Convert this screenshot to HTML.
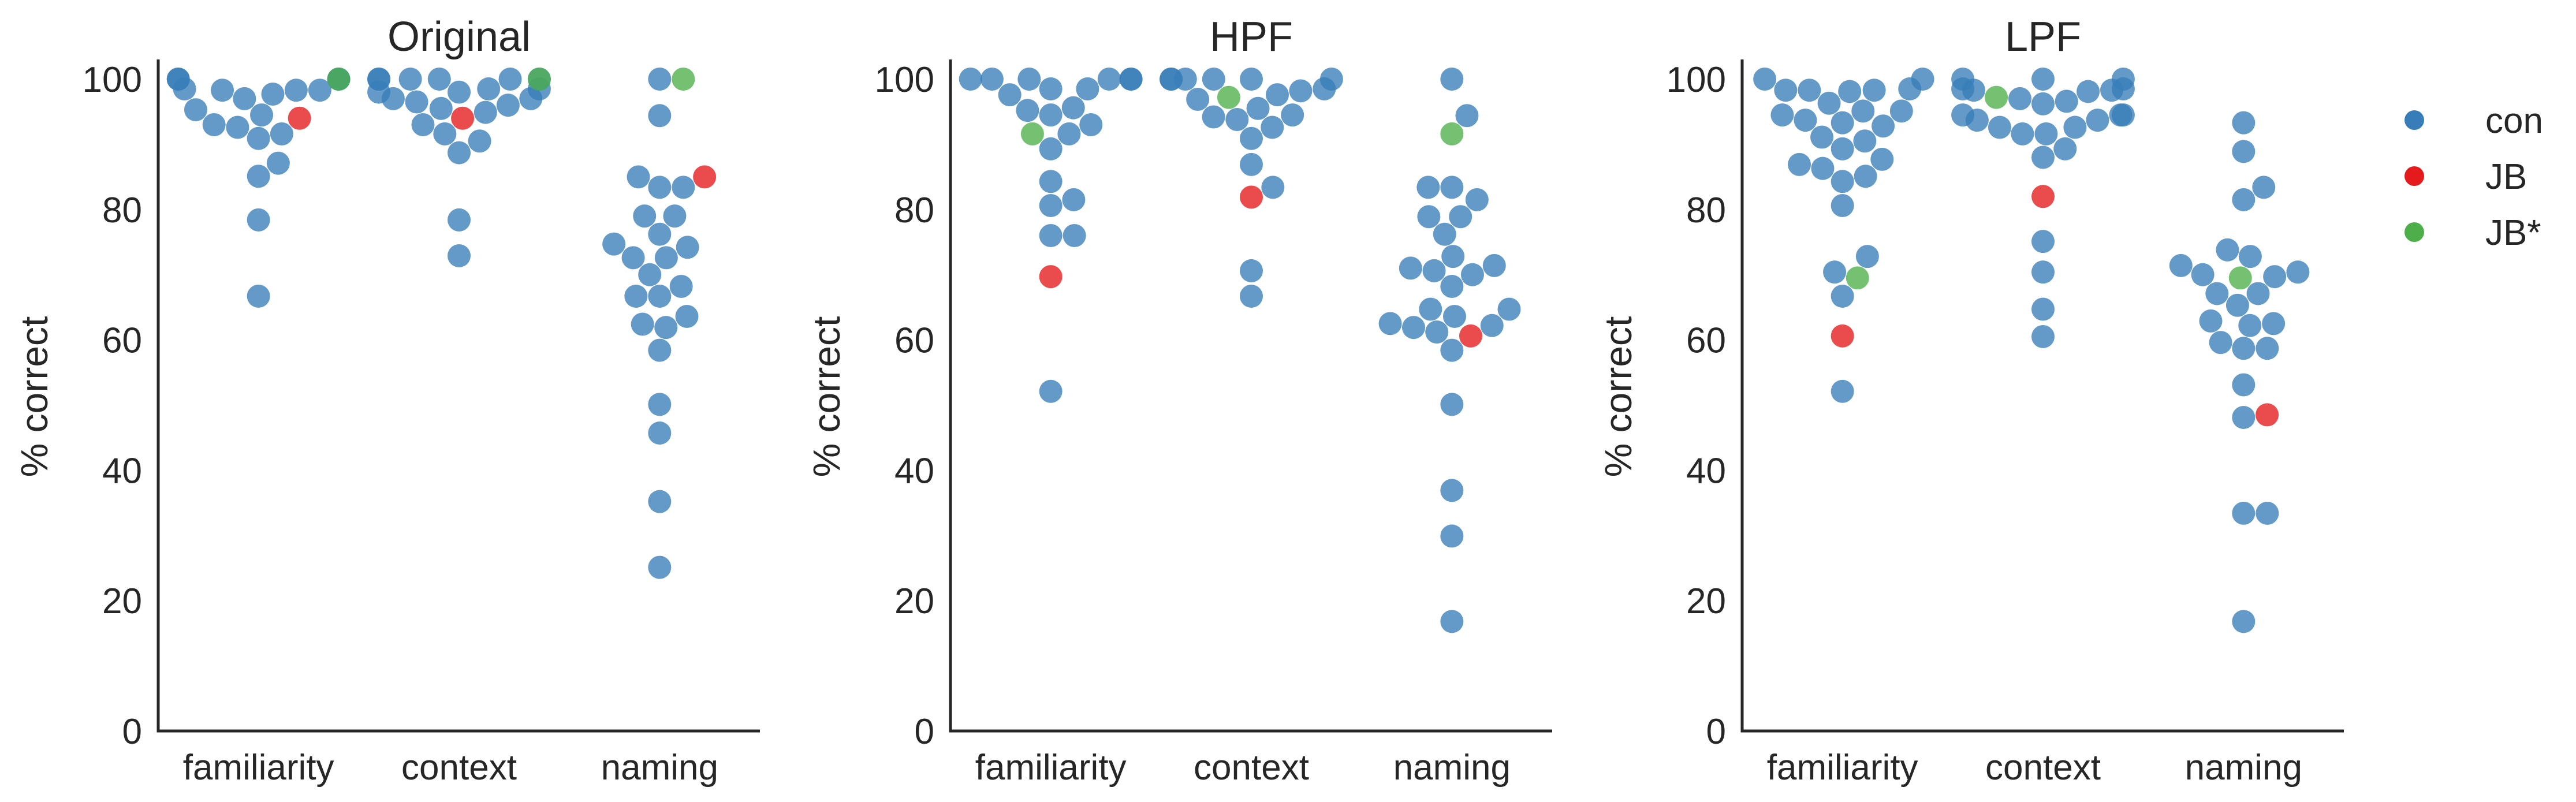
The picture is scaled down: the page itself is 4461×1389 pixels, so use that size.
<!DOCTYPE html>
<html><head><meta charset="utf-8"><style>
html,body{margin:0;padding:0;background:#fff;}
svg{display:block;font-family:"Liberation Sans",sans-serif;}
</style></head><body>
<svg id="chart" width="4461" height="1389" viewBox="0 0 4461 1389"></svg>
<script>
const panels = ["Original","HPF","LPF"];
const categories = ["familiarity","context","naming"];
const yTicks = [0,20,40,60,80,100];
const groups = ["con","JB","JB*"];
// con values per panel per category
const conOriginal = [
 [100,100,100,100,98.5,98.3,98.3,98.3,97,97.7,95.3,94.5,91.6,90.9,92.6,93,87.1,85.1,78.4,66.7],
 [100,100,100,100,100,100,98.5,98.5,97,97,96.5,98,98,96,94.9,95.5,93,91.6,90.5,88.7,78.4,72.9],
 [100,94.4,85,83.4,83.4,79,79,76.2,74.2,74.7,72.6,72.6,70,68.2,66.7,66.7,63.6,62.4,61.9,58.4,50.1,45.7,35.2,25.1]
];
const conHPF = [
 [100,100,100,100,100,100,98.5,98.5,97.6,95.6,95.2,94.5,93,91.6,89.3,84.3,81.5,80.6,76,76,52.1],
 [100,100,100,100,100,100,98.5,98.2,97.6,96.9,95.5,94.5,94.2,93.8,92.6,90.9,86.9,83.4,70.6,66.7],
 [100,94.4,83.4,83.4,81.5,78.9,78.9,76.2,72.8,71.4,71,70.6,70,68.2,64.7,64.7,63.6,62.5,62.2,61.9,61.2,58.4,50.1,36.9,29.9,16.8]
];
const conLPF = [
 [100,100,98.5,98.3,98.3,98.3,98.1,96.3,95.1,95.1,94.5,93.7,93.3,92.8,91.1,90.5,89.3,87.7,86.3,86.9,85.1,84.3,80.6,72.8,70.4,66.7,52.1],
 [100,100,100,98.5,98.5,98.3,98.1,97,96.6,96.2,98.3,94.5,94.5,93.7,94.5,93.7,92.6,92.6,91.6,91.6,89.3,88,75.1,70.4,64.7,60.5],
 [93.3,88.9,83.4,81.5,73.8,72.8,71.4,70.4,70,69.7,67.1,67.1,65.3,62.9,62.5,62.2,59.6,58.7,58.7,53.1,48.1,33.4,33.4,16.8]
];
const jbValues = [[94,94,85],[69.7,81.9,60.6],[60.6,82,48.5]];
const jbStarValues = [[100,100,100],[91.6,97.2,91.6],[69.5,97.2,69.5]];
</script>
<script>
const svg = document.getElementById('chart');
const NS = 'http://www.w3.org/2000/svg';
const conAll = [conOriginal, conHPF, conLPF];
const panelX = [274, 1646, 3017];
const PW = 1042, Y0 = 1266, Y100 = 137, R = 20;
const colors = {"con":"#377eb8","JB":"#e41a1c","JB*":"#4daf4a"};
function yScale(v){ return Y0 + (Y100 - Y0) * v / 100; }
function xCenter(p, c){ return panelX[p] + PW/6 + c*PW/3; }
function mk(tag, attrs, parent){
  const e = document.createElementNS(NS, tag);
  for (const k in attrs) e.setAttribute(k, attrs[k]);
  (parent||svg).appendChild(e); return e;
}
function swarm(pts, cx){
  // pts: [{v, g}] ; greedy beeswarm in ascending order
  const order = pts.slice().sort((a,b)=>a.v-b.v);
  const placed = [];
  const D = 2*R + 1, half = 0.8*PW/3/2;
  order.forEach(p=>{
    const y = yScale(p.v);
    const cands = [0];
    placed.forEach(q=>{
      const dy = q.y - y;
      if (Math.abs(dy) < D){
        const dx = Math.sqrt(D*D - dy*dy);
        cands.push(q.dx + dx, q.dx - dx);
      }
    });
    cands.sort((a,b)=>Math.abs(a)-Math.abs(b));
    let best = cands[cands.length-1];
    for (const c of cands){
      let ok = true;
      for (const q of placed){
        const ddx = q.dx - c, ddy = q.y - y;
        if (ddx*ddx + ddy*ddy < D*D - 0.5){ ok = false; break; }
      }
      if (ok){ best = c; break; }
    }
    placed.push({dx: best, y: y, g: p.g});
  });
  placed.forEach(q=>{ q.x = cx + Math.max(-half, Math.min(half, q.dx)); });
  return placed;
}
panels.forEach((name, p)=>{
  const g = mk('g', {}); 
  
  
  const x0 = panelX[p];
  const t = mk('text', {x: x0 + PW/2, y: 88, 'font-size': 72, 'text-anchor':'middle', fill:'#262626'}, g);
  t.textContent = name;
  
  
  const ax = mk('path', {d:`M${x0},${103}V${Y0}H${x0+PW}`, stroke:'#262626', 'stroke-width':5, fill:'none'}, g);
  
  
  yTicks.forEach(v=>{
    const tl = mk('text', {x: x0 - 28, y: yScale(v) + 22, 'font-size': 62, 'text-anchor':'end', fill:'#262626'}, g);
    tl.textContent = v;
    
    
  });
  const yl = mk('text', {x: 0, y: 0, 'font-size': 66, 'text-anchor':'middle', fill:'#262626', transform:`translate(${x0-192},${687}) rotate(-90)`}, g);
  yl.textContent = '% correct';
  
  
  categories.forEach((c, ci)=>{
    const xl = mk('text', {x: xCenter(p, ci), y: 1350, 'font-size': 62, 'text-anchor':'middle', fill:'#262626'}, g);
    xl.textContent = c;
    
    
    const pts = conAll[p][ci].map(v=>({v, g:'con'}));
    pts.push({v: jbValues[p][ci], g:'JB'});
    pts.push({v: jbStarValues[p][ci], g:'JB*'});
    swarm(pts, xCenter(p, ci)).forEach(q=>{
      const dot = mk('circle', {cx:q.x, cy:q.y, r:R, fill:colors[q.g], 'fill-opacity':0.78}, g);
      
      
    });
  });
});
const lg = mk('g', {});


groups.forEach((gname, i)=>{
  const y = 208 + i*97;
  const d = mk('circle', {cx:4181, cy:y, r:17, fill:colors[gname]}, lg);
  
  
  const tx = mk('text', {x:4304, y:y+22, 'font-size':62, fill:'#262626'}, lg);
  tx.textContent = gname;
  
  
});
</script>
</body></html>
